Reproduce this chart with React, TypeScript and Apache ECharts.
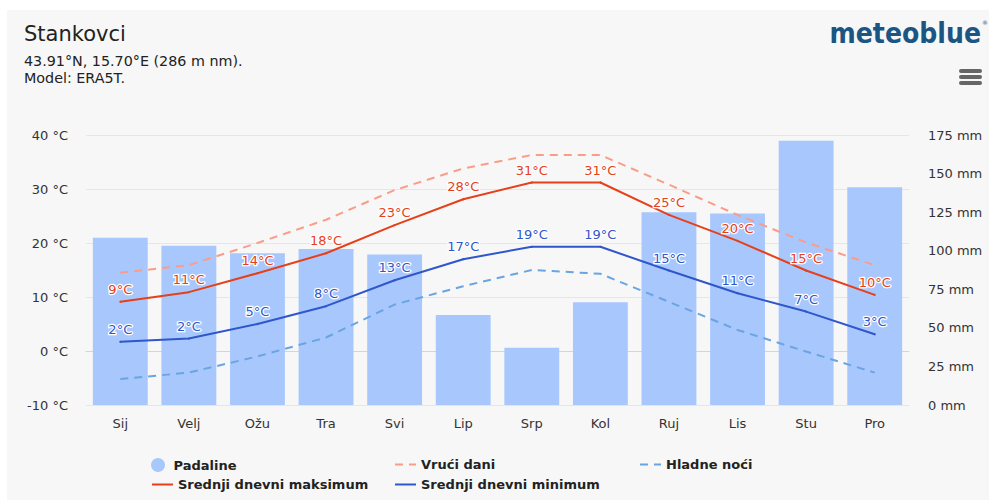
import React, { useEffect, useRef } from "react";
import * as echarts from "echarts";

const months = ["Sij", "Velj", "Ožu", "Tra", "Svi", "Lip", "Srp", "Kol", "Ruj", "Lis", "Stu", "Pro"];
const precipitation = [108.4, 103.2, 98.3, 101.1, 97.6, 58.3, 37.1, 66.6, 125.0, 124.1, 171.3, 141.1];
const meanMax = [9.1, 10.9, 14.4, 18.1, 23.3, 28.1, 31.2, 31.2, 25.2, 20.4, 14.9, 10.4];
const meanMin = [1.7, 2.3, 5.0, 8.3, 13.1, 17.0, 19.3, 19.3, 14.9, 10.7, 7.3, 3.1];
const hotDays = [14.5, 15.9, 20.0, 24.3, 29.8, 33.8, 36.3, 36.3, 30.8, 25.2, 20.1, 15.9];
const coldNights = [-5.2, -4.0, -1.0, 2.5, 8.6, 12.0, 15.0, 14.3, 9.1, 3.9, -0.1, -4.0];

const FONT = "DejaVu Sans";
const C_BAR = "#a8c8fd";
const C_MAX = "#e5401a";
const C_MIN = "#2f56cb";
const C_HOT = "#fb9c88";
const C_COLD = "#6aa4e2";

export default function App() {
  const ref = useRef<HTMLDivElement>(null);
  useEffect(() => {
    if (!ref.current) return;
    const chart = echarts.init(ref.current, null, { renderer: "svg" });
    const label = (color: string) => ({
      show: true,
      position: "top",
      distance: 5,
      color,
      fontFamily: FONT,
      fontSize: 13,
      textBorderColor: "#ffffff",
      textBorderWidth: 2.5,
      formatter: (p: any) => `${Math.round(p.value)}°C`,
    });
    const legendBase = {
      orient: "horizontal",
      padding: 0,
      itemWidth: 21,
      itemHeight: 14,
      itemGap: 5,
      textStyle: { fontFamily: FONT, fontSize: 13, fontWeight: "bold", color: "#222" },
    };
    const lineLegend = { ...legendBase, itemStyle: { opacity: 0 } };
    chart.setOption({
      animation: false,
      backgroundColor: "#f7f7f7",
      textStyle: { fontFamily: FONT },
      grid: { left: 79, right: 80, top: 125, bottom: 95 },
      graphic: [
        { type: "text", left: 17, top: 13, style: { text: "Stankovci", font: `21px '${FONT}'`, fill: "#222" } },
        { type: "text", left: 17, top: 44, style: { text: "43.91°N, 15.70°E (286 m nm).", font: `14.3px '${FONT}'`, fill: "#222" } },
        { type: "text", left: 17, top: 61, style: { text: "Model: ERA5T.", font: `14.3px '${FONT}'`, fill: "#222" } },
        {
          type: "text",
          right: 8,
          top: 9,
          style: { text: "meteoblue", font: `bold 28px 'DejaVu Sans Condensed'`, fill: "#1b5584" },
        },
        { type: "text", right: 1, top: 9, style: { text: "®", font: `6px '${FONT}'`, fill: "#1b5584" } },
        { type: "rect", shape: { x: 952, y: 59, width: 23, height: 4, r: 2 }, style: { fill: "#666" } },
        { type: "rect", shape: { x: 952, y: 65, width: 23, height: 4, r: 2 }, style: { fill: "#666" } },
        { type: "rect", shape: { x: 952, y: 71, width: 23, height: 4, r: 2 }, style: { fill: "#666" } },
      ],
      legend: [
        { ...legendBase, left: 144, top: 448, data: [{ name: "Padaline", icon: "circle" }] },
        { ...lineLegend, left: 387, top: 448, data: ["Vrući dani"] },
        { ...lineLegend, left: 632, top: 448, data: ["Hladne noći"] },
        { ...lineLegend, left: 144, top: 468, data: ["Srednji dnevni maksimum"] },
        { ...lineLegend, left: 387, top: 468, data: ["Srednji dnevni minimum"] },
      ],
      xAxis: {
        type: "category",
        data: months,
        axisLine: { lineStyle: { color: "#ccd6eb" } },
        axisTick: { show: false },
        axisLabel: { color: "#333", fontSize: 13, fontFamily: FONT, margin: 12 },
      },
      yAxis: [
        {
          type: "value",
          min: -10,
          max: 40,
          interval: 10,
          axisLabel: { formatter: "{value} °C", color: "#333", fontSize: 13, fontFamily: FONT, margin: 18 },
          splitLine: { lineStyle: { color: "#e6e6e6" } },
          axisLine: { show: false },
          axisTick: { show: false },
        },
        {
          type: "value",
          min: 0,
          max: 175,
          interval: 25,
          position: "right",
          axisLabel: { formatter: "{value} mm", color: "#333", fontSize: 13, fontFamily: FONT, margin: 19 },
          splitLine: { show: false },
          axisLine: { show: false },
          axisTick: { show: false },
        },
      ],
      series: [
        {
          name: "Padaline",
          type: "bar",
          yAxisIndex: 1,
          data: precipitation,
          barCategoryGap: "20%",
          itemStyle: { color: C_BAR },
          z: 1,
        },
        {
          name: "Vrući dani",
          type: "line",
          data: hotDays,
          symbol: "none",
          lineStyle: { color: C_HOT, width: 2, type: [8, 6] },
          itemStyle: { color: C_HOT },
          z: 2,
        },
        {
          name: "Hladne noći",
          type: "line",
          data: coldNights,
          symbol: "none",
          lineStyle: { color: C_COLD, width: 2, type: [8, 6] },
          itemStyle: { color: C_COLD },
          z: 2,
        },
        {
          name: "Srednji dnevni maksimum",
          type: "line",
          data: meanMax,
          symbol: "circle",
          symbolSize: 2,
          showSymbol: true,
          lineStyle: { color: C_MAX, width: 2 },
          itemStyle: { color: C_MAX },
          label: label(C_MAX),
          z: 3,
        },
        {
          name: "Srednji dnevni minimum",
          type: "line",
          data: meanMin,
          symbol: "circle",
          symbolSize: 2,
          showSymbol: true,
          lineStyle: { color: C_MIN, width: 2 },
          itemStyle: { color: C_MIN },
          label: label(C_MIN),
          z: 3,
        },
      ],
    });
    return () => chart.dispose();
  }, []);
  return (
    <div
      ref={ref}
      style={{ position: "absolute", left: 7, top: 10, width: 982, height: 490 }}
    />
  );
}
